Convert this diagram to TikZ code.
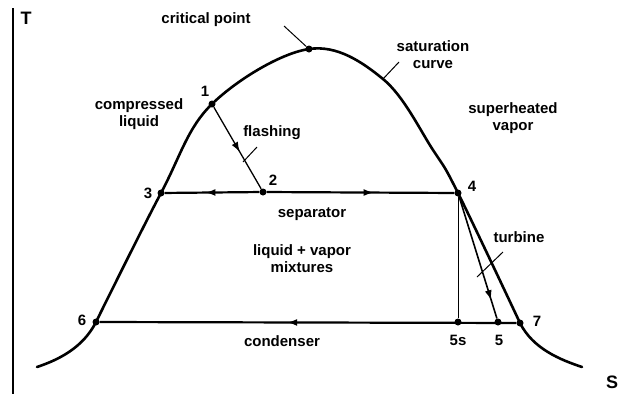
\documentclass[tikz,border=0pt]{standalone}
\usepackage{fontspec}
\setmainfont{Liberation Sans}
\usepackage{tikz}
\usetikzlibrary{arrows.meta}
\usetikzlibrary{decorations.markings}

\begin{document}
\begin{tikzpicture}[x=1pt,y=-1pt,
  dot/.style={circle,fill=black,inner sep=0pt,minimum size=7pt},
  lbl/.style={font=\fontsize{15}{17}\selectfont\bfseries,align=center,inner sep=0pt},
  axlbl/.style={font=\fontsize{18}{18}\selectfont\bfseries,inner sep=0pt},
  leader/.style={line width=1pt},
  satline/.style={line width=2.6pt,line cap=round},
  midarrow/.style={postaction={decorate,decoration={markings,
    mark=at position #1 with {\arrow{Latex[length=10pt,width=7pt]}}}}}]
\useasboundingbox (0,0) rectangle (622,394);
% axis
\draw[line width=2.5pt] (13,8) -- (13,394);
\node[axlbl] (tlab) at (26,18) {T};
\node[axlbl] (slab) at (612,382) {S};

% state points
\node[dot] (cp) at (309,49) {};
\node[dot] (p1) at (212,104) {};
\node[dot] (p2) at (263,192) {};
\node[dot] (p3) at (161,193) {};
\node[dot] (p4) at (458,193) {};
\node[dot] (p5s) at (458,322) {};
\node[dot] (p5) at (498,322) {};
\node[dot] (p6) at (96,322) {};
\node[dot] (p7) at (520,323) {};
\coordinate (c0) at (37,367);
\coordinate (c5) at (383,79);
\coordinate (c6) at (433,150);
\coordinate (c9) at (582,367);

% saturation curve
\draw[satline] plot[smooth,tension=0.6] coordinates {(p6.center)
  (p3.center) (p1.center) (cp.center) (c5) (c6) (p4.center) (p7.center)};
\draw[satline] (p6.center) .. controls (83,348) and (58,360) .. (c0);
\draw[satline] (p7.center) .. controls (533,349) and (561,360) .. (c9);

% process lines
\draw[line width=1.3pt,midarrow=0.55] (p1) -- (p2);
\draw[line width=2.2pt,midarrow=0.57] (p2) -- (p3);
\draw[line width=2.2pt,midarrow=0.57] (p2) -- (p4);
\draw[line width=0.9pt] (p4) -- (p5s);
\draw[line width=1.6pt,midarrow=0.85] (p4) -- (p5);
\draw[line width=2.2pt,midarrow=0.55] (p7) -- (p6);

% numbers
\node[lbl] (n1) at (205,91) {1};
\node[lbl] (n2) at (273,180) {2};
\node[lbl] (n3) at (148,193) {3};
\node[lbl] (n4) at (472,186) {4};
\node[lbl] (n5s) at (458,340) {5s};
\node[lbl] (n5) at (499,340) {5};
\node[lbl] (n6) at (82,320) {6};
\node[lbl] (n7) at (537,321) {7};

% region and process labels
\node[lbl] (cplab) at (206,20) {critical point};
\node[lbl] (satlab) at (433,55) {saturation\\curve};
\node[lbl] (liqlab) at (139,114) {compressed\\liquid};
\node[lbl] (flashlab) at (272,133) {flashing};
\node[lbl] (suplab) at (513,118) {superheated\\vapor};
\node[lbl] (seplab) at (312,214) {separator};
\node[lbl] (mixlab) at (302,259) {liquid + vapor\\mixtures};
\node[lbl] (condlab) at (282,341) {condenser};
\node[lbl] (turblab) at (519,237) {turbine};

% leaders
\coordinate (l1) at (284,26);
\coordinate (l2) at (399,62);
\coordinate (l2e) at (383,79);
\coordinate (l3) at (257,147);
\coordinate (l3e) at (243,162);
\coordinate (l4) at (503,252);
\coordinate (l4e) at (477,277);
\draw[leader] (l1) -- (cp);
\draw[leader] (l2) -- (l2e);
\draw[leader] (l3) -- (l3e);
\draw[leader] (l4) -- (l4e);
\end{tikzpicture}
\end{document}
